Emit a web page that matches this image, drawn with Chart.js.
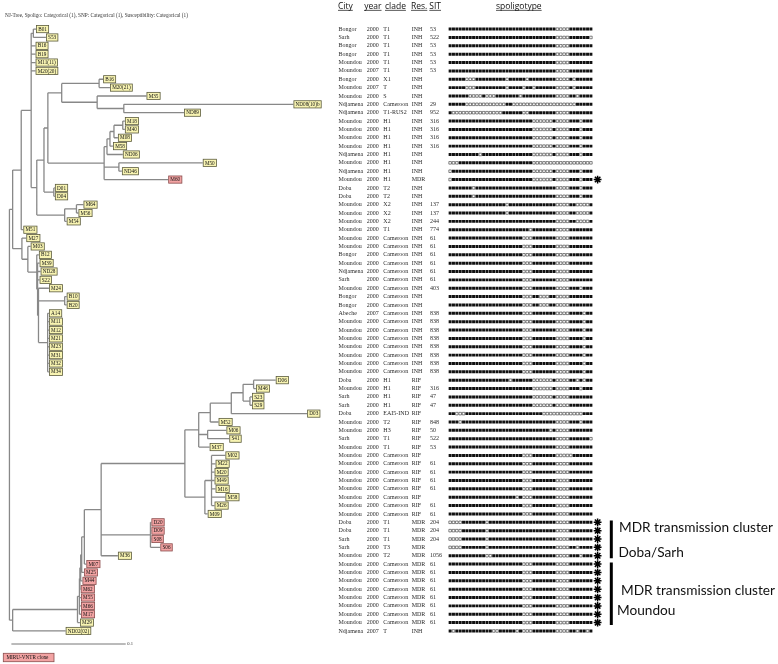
<!DOCTYPE html>
<html><head><meta charset="utf-8">
<script src="https://cdn.jsdelivr.net/npm/chart.js@4/dist/chart.umd.min.js"></script>
<style>html,body{margin:0;padding:0;background:#fff}#wrap{width:778px;height:664px;position:relative}</style>
</head><body><div id="wrap"><canvas id="c" width="778" height="664"></canvas></div>
<script>
const title = "NJ-Tree, Spoligo: Categorical (1), SNP: Categorical (1), Susceptibility: Categorical (1)";
const headers = ["City","year","clade","Res.","SIT","spoligotype"];

const city = [
 "Bongor","Sarh","Bongor","Bongor","Moundou","Moundou","Bongor","Moundou","Moundou","Ndjamena",
 "Ndjamena","Moundou","Moundou","Moundou","Moundou","Ndjamena","Moundou","Ndjamena","Moundou","Doba",
 "Doba","Moundou","Moundou","Moundou","Moundou","Moundou","Moundou","Bongor","Moundou","Ndjamena",
 "Sarh","Moundou","Bongor","Bongor","Abeche","Moundou","Moundou","Moundou","Moundou","Moundou",
 "Moundou","Moundou","Doba","Moundou","Sarh","Sarh","Doba","Moundou","Moundou","Sarh",
 "Moundou","Moundou","Moundou","Moundou","Moundou","Moundou","Moundou","Moundou","Moundou","Doba",
 "Doba","Sarh","Sarh","Moundou","Moundou","Moundou","Moundou","Moundou","Moundou","Moundou",
 "Moundou","Moundou","Ndjamena"];
const year = [
 "2000","2000","2000","2000","2000","2007","2000","2007","2000","2000",
 "2000","2000","2000","2000","2000","2000","2000","2000","2000","2000",
 "2000","2000","2000","2000","2000","2000","2000","2000","2000","2000",
 "2000","2000","2000","2000","2007","2000","2000","2000","2000","2000",
 "2000","2000","2000","2000","2000","2000","2000","2000","2000","2000",
 "2000","2000","2000","2000","2000","2000","2000","2000","2000","2000",
 "2000","2000","2000","2000","2000","2000","2000","2000","2000","2000",
 "2000","2000","2007"];
const clade = [
 "T1","T1","T1","T1","T1","T1","X1","T","S","Cameroon",
 "T1-RUS2","H1","H1","H1","H1","H1","H1","H1","H1","T2",
 "T2","X2","X2","X2","T1","Cameroon","Cameroon","Cameroon","Cameroon","Cameroon",
 "Cameroon","Cameroon","Cameroon","Cameroon","Cameroon","Cameroon","Cameroon","Cameroon","Cameroon","Cameroon",
 "Cameroon","Cameroon","H1","H1","H1","H1","EAI5-IND","T2","H3","T1",
 "T1","Cameroon","Cameroon","Cameroon","Cameroon","Cameroon","Cameroon","Cameroon","Cameroon","T1",
 "T1","T1","T3","T2","Cameroon","Cameroon","Cameroon","Cameroon","Cameroon","Cameroon",
 "Cameroon","Cameroon","T"];
const resistance = [
 "INH","INH","INH","INH","INH","INH","INH","INH","INH","INH",
 "INH","INH","INH","INH","INH","INH","INH","INH","MDR","INH",
 "INH","INH","INH","INH","INH","INH","INH","INH","INH","INH",
 "INH","INH","INH","INH","INH","INH","INH","INH","INH","INH",
 "INH","INH","RIF","RIF","RIF","RIF","RIF","RIF","RIF","RIF",
 "RIF","RIF","RIF","RIF","RIF","RIF","RIF","RIF","RIF","MDR",
 "MDR","MDR","MDR","MDR","MDR","MDR","MDR","MDR","MDR","MDR",
 "MDR","MDR","INH"];
const sit = [
 "53","522","53","53","53","53","","","","29",
 "952","316","316","316","316","","","","","",
 "","137","137","244","774","61","61","61","61","61",
 "61","403","","","838","838","838","838","838","838",
 "838","838","","316","47","47","","848","50","522",
 "53","","61","61","61","61","","61","61","204",
 "204","204","","1056","61","61","61","61","61","61",
 "61","61",""];
// 43 spacers, 1 = present (black), 0 = absent (white); spaces only group by ten
const spoligo = [
 "1111111111 1111111111 1111111111 1100001111 111",
 "1111111111 1111111111 1111111111 1100001111 110",
 "1111111111 1111111111 1111111111 1100001111 111",
 "1111111111 1111111111 1111111111 1100001111 111",
 "1111111111 1111111111 1111111111 1100001111 111",
 "1111111111 1111111111 1111111111 1100001111 111",
 "1111100011 1111111011 1110111111 1100001011 111",
 "1111100011 1111111011 1101101111 1100001011 111",
 "1111110000 1000111111 1011111111 1100001101 111",
 "1111100000 0000000110 0000000000 0000000011 111",
 "1000000000 0000001111 1100111111 1100001111 111",
 "1111111111 1111111111 1111100000 0100001110 111",
 "1111111111 1111111111 1111100000 0100001110 111",
 "1111111111 1111111111 1111100000 0100001110 111",
 "1111111111 1111111111 1111100000 0100001110 111",
 "1111111110 1111111111 1111100000 0100001110 111",
 "0001111111 1111111111 1111100000 0000000000 000",
 "0111111111 1111111111 1111100000 0100001110 111",
 "0111111111 1111111111 1111100000 0100001110 111",
 "1111111011 1111111111 1111111111 1100001110 111",
 "1111111011 1111111111 1111111111 1100001110 111",
 "1111111111 1111111011 1111111111 1100001100 001",
 "1111111111 1111111011 1111111111 1100001100 001",
 "1111111111 1111111111 1111111111 1100001100 001",
 "1111111111 1111111111 1111011111 1100001111 111",
 "1111111111 1111111111 1100011111 1100001111 111",
 "1111111111 1111111111 1100011111 1100001111 111",
 "1111111111 1111111111 1100011111 1100001111 111",
 "1111111111 1111111111 1100011111 1100001111 111",
 "1111111111 1111111111 1100011111 1100001111 111",
 "1111111111 1111111111 1100011111 1100001111 111",
 "1111111111 1111111111 1100011111 1100001110 111",
 "1111111111 1111111111 1100011000 1100001111 111",
 "1111111111 1111111111 1100011000 1100001111 111",
 "1111111111 1111111111 1100011111 1100001111 011",
 "1111111111 1111111111 1100011111 1100001111 011",
 "1111111111 1111111111 1100011111 1100001111 011",
 "1111111111 1111111111 1100011111 1100001111 011",
 "1111111111 1111111111 1100011111 1100001111 011",
 "1111111111 1111111111 1100011111 1100001111 011",
 "1111111111 1111111111 1100011111 1100001111 011",
 "1111111111 1111111111 1100011111 1100001111 011",
 "1111111111 1111111101 1111100000 0100001101 011",
 "1111111111 1111111111 1111100000 0100001110 111",
 "1111111111 1111111111 1111100000 0100001111 111",
 "1111111111 1111111111 1111100000 0100001111 111",
 "1100011111 1111111111 1111111100 0000000000 111",
 "1110111111 1111111111 1111111111 1100001110 111",
 "1111111111 1111111111 1111111111 0100001111 111",
 "1111111111 1111111111 1111111111 1100001111 110",
 "1111111111 1111111111 1111111111 1100001111 111",
 "1111111111 1111111111 1100011111 1100000111 111",
 "1111111111 1111111111 1100011111 1100001111 111",
 "1111111111 1111111111 1100011111 1100001111 111",
 "1111111111 1111111111 1100011111 1100001111 111",
 "1111111111 1111111111 1100011111 1100001111 111",
 "1111111111 1111111111 0100011111 1100001111 111",
 "1111111111 1111111111 1100011111 1100001111 111",
 "1111111111 1111111111 1100011111 1100001111 111",
 "0000111111 1011111111 1111111111 1100001111 111",
 "0000111111 1011111111 1111111111 1100001111 111",
 "0000111111 1011111111 1111111111 1100001111 111",
 "0000111111 1011111111 1111111111 1100001101 111",
 "1111111111 1001111111 1111111111 1100001110 111",
 "1111111111 1111111111 1100011111 1100001111 111",
 "1111111111 1111111111 1100011111 1100001111 111",
 "1111111111 1111111111 1100011111 1100001111 111",
 "1111111111 1111111111 1100011111 1100001111 111",
 "1111111111 1111111111 1100011111 1100001111 111",
 "1111111111 1111111111 1100011111 1100001111 111",
 "1111111111 1111111111 1100011111 1100001111 111",
 "1111111111 1111111111 1100011111 1100001111 111",
 "1011111111 1110011111 0100011111 1100001101 101"];

// tree leaves (one per table row), depth from root in units of 0.001
const leafLabel = ["B01","S53","B16","B19","M11(11)","M20(20)","B16","M20(21)","M35","ND08(10)b",
 "ND89","M18","M40","M08","M58","ND06","M50","ND46","M60","D01",
 "D04","M64","M56","M54","M51","M27","M03","B12","M39","ND28",
 "S22","M24","B10","B20","A14","M11","M12","M21","M23","M31",
 "M32","M34","D06","M46","S23","S29","D03","M52","M06","S41",
 "M37","M02","M22","M20","M49","M16","M58","M26","M09","D20",
 "D09","S08","S06","M36","M07","M25","M44","M62","M55","M66",
 "M17","M29","ND02(02)"];
const leafDepth = [23.3,31.9,22.8,22.8,22.8,22.8,81.9,87.9,119.8,248.3,
 152.6,100.9,100.9,94.8,90.5,99.1,169.0,98.3,138.8,39.7,
 39.7,64.7,60.3,50.0,12.1,14.7,18.5,25.7,26.3,27.2,
 26.3,34.5,50.0,50.0,34.5,34.5,34.5,34.5,34.5,34.5,
 34.5,34.5,232.8,215.5,212.1,212.1,260.3,182.8,189.7,192.2,
 175.0,188.8,180.2,179.3,179.3,180.2,188.8,179.3,173.3,124.1,
 124.1,124.1,131.9,94.8,67.2,65.1,63.8,62.3,62.5,62.5,
 62.5,61.6,49.1];
const cloneRows = [18,59,60,61,62,64,65,66,67,68,69,70];
// internal nodes: [name, depth, children (row index = leaf, string = node)]
const treeNodes = [
 ["R",0,["T","Bn"]],
 ["T",2.8,["U","V"]],
 ["U",10.3,["W",24]],
 ["W",19.0,["P",2,3,4,5,"X"]],
 ["P",20.9,[0,1]],
 ["X",23.9,["Y","Mc"]],
 ["Y",30.2,["Z","Dp"]],
 ["Z",33.6,["Q","H"]],
 ["Q",45.7,["Q1","Q2"]],
 ["Q1",78.4,[6,7]],
 ["Q2",76.7,[8,"Q3"]],
 ["Q3",100.0,[9,10]],
 ["H",82.8,["H1a","H2",18]],
 ["H1a",85.3,["H1b",15]],
 ["H1b",87.9,["H1c",14]],
 ["H1c",91.4,["Hp",13]],
 ["Hp",99.1,[11,12]],
 ["H2",95.7,[16,17]],
 ["Dp",38.8,[19,20]],
 ["Mc",48.3,["Mc2",23]],
 ["Mc2",58.6,[21,22]],
 ["V",10.9,[25,"S1"]],
 ["S1",16.1,[26,"S2"]],
 ["S2",23.9,[27,"S3"]],
 ["S3",24.6,[28,29,30,"S4"]],
 ["S4",25.4,[31,"Bp","A"]],
 ["Bp",48.3,[32,33]],
 ["A",33.4,[34,35,36,37,38,39,40,41]],
 ["Bn",2.8,["LC",72]],
 ["LC",59.5,["I4",71]],
 ["I4",61.2,["I3",68,69,70]],
 ["I3",61.6,["I2",67]],
 ["I2",62.3,["I1",66]],
 ["I1",63.2,["I",65]],
 ["I",65.5,["J",64]],
 ["J",80.2,["K","DS",63]],
 ["K",153.4,["Up","Lo"]],
 ["Up",165.5,["E1","E6",50]],
 ["E1",175.6,["E2",47]],
 ["E2",194.0,["E3",46]],
 ["E3",204.3,["E4","E5"]],
 ["E4",213.5,[42,43]],
 ["E5",210.3,[44,45]],
 ["E6",173.3,[48,49]],
 ["Lo",170.9,["L1",58]],
 ["L1",176.7,[51,52,53,54,55,56,57]],
 ["DS",123.3,[59,60,61,62]]];
const scaleBarLength = 100; // 0.1
const scaleBarLabel = "0.1";
const mdrStarRows = [18,59,60,61,62,63,64,65,66,67,68,69,70,71];
const clusterNames = [["MDR transmission cluster","Doba/Sarh"],["MDR transmission cluster","Moundou"]];
const clusterFirst = [59,64];
const clusterLast = [63,71];
const legendText = "MIRU-VNTR clone";

// ---------- layout ----------
const W = 778, H = 664;
const TREE_X0 = 4, PX_PER_UNIT = 1.16;
const ROW_Y0 = 24, ROW_H = 8.5;
const SP_X0 = 447.6, SP_W = 3.4;
const headerX = [338, 364.3, 385, 411, 429.3, 496];
const colX = [338.5, 366.7, 383.3, 411.7, 430];

const nodeMap = {};
treeNodes.forEach(n => nodeMap[n[0]] = {d: n[1], ch: n[2]});
const depthOf = c => typeof c === 'number' ? leafDepth[c] : nodeMap[c].d;
const yMemo = {};
function yOf(c){
  if (typeof c === 'number') return c;
  if (yMemo[c] !== undefined) return yMemo[c];
  const ch = nodeMap[c].ch;
  return yMemo[c] = (yOf(ch[0]) + yOf(ch[ch.length-1])) / 2;
}
const treeData = [];
treeNodes.forEach(([name, d, ch]) => {
  treeData.push({x:d, y:yOf(ch[0])}, {x:d, y:yOf(ch[ch.length-1])}, {x:d, y:null});
  ch.forEach(c => { const yc = yOf(c); treeData.push({x:d, y:yc}, {x:depthOf(c), y:yc}, {x:d, y:null}); });
});
const filled = [], empty = [];
spoligo.forEach((s, r) => {
  s.replace(/ /g,'').split('').forEach((ch, k) => {
    (ch === '1' ? filled : empty).push({x:k+1, y:r});
  });
});
const stars = mdrStarRows.map(r => ({x:45, y:r}));
const bars = [];
clusterFirst.forEach((f,i) => { bars.push({x:614.5, y:f-0.2}, {x:614.5, y:clusterLast[i]+0.3}, {x:614.5, y:null}); });
const scaleBar = [{x:1.7, y:73.56}, {x:1.7+scaleBarLength, y:73.56}];

function fitFont(c, text, family, target){
  c.font = '10px ' + family;
  const w = c.measureText(text).width;
  c.font = (10*target/w).toFixed(2) + 'px ' + family;
}

const textPlugin = {
  id: 'texts',
  afterDatasetsDraw(chart){
    const c = chart.ctx, sx = chart.scales.x, sy = chart.scales.y;
    c.save();
    c.textBaseline = 'alphabetic';
    c.fillStyle = '#333';
    fitFont(c, title, '"Liberation Serif"', 183);
    c.fillText(title, 5, 16.5);
    c.font = '8.5px "Open Sans"';
    c.fillStyle = '#111';
    headers.forEach((h,i) => {
      c.fillText(h, headerX[i], 8.5);
      c.fillRect(headerX[i], 9.9, c.measureText(h).width, 0.7);
    });
    c.font = '6px "Liberation Serif"';
    c.textBaseline = 'middle';
    c.fillStyle = '#2a2a2a';
    for (let i = 0; i < city.length; i++){
      const y = sy.getPixelForValue(i);
      [city[i], year[i], clade[i], resistance[i], sit[i]].forEach((t,j) => c.fillText(t, colX[j], y));
    }
    c.font = '5.2px "Liberation Serif"';
    leafLabel.forEach((lab,i) => {
      const x = sx.getPixelForValue(leafDepth[i]) + 0.5, y = sy.getPixelForValue(i);
      const w = c.measureText(lab).width + 3.4;
      const pink = cloneRows.includes(i);
      c.fillStyle = pink ? '#f2a3a3' : '#f8f4b2';
      c.fillRect(x, y-3.6, w, 7.2);
      c.strokeStyle = pink ? '#8a4c4c' : '#5c5c3e';
      c.lineWidth = 0.8;
      c.strokeRect(x, y-3.6, w, 7.2);
      c.fillStyle = '#111';
      c.fillText(lab, x+1.7, y+0.3);
    });
    c.font = '4.6px "Liberation Serif"';
    c.fillStyle = '#333';
    c.fillText(scaleBarLabel, sx.getPixelForValue(1.7+scaleBarLength)+1.5, sy.getPixelForValue(73.56));
    c.fillStyle = '#f2a3a3';
    c.fillRect(3.3, 653.3, 50.7, 8.4);
    c.strokeStyle = '#8a4c4c'; c.lineWidth = 0.8;
    c.strokeRect(3.3, 653.3, 50.7, 8.4);
    c.fillStyle = '#111';
    c.font = '5.2px "Liberation Serif"';
    c.fillText(legendText, 6.5, 657.7);
    c.textBaseline = 'alphabetic';
    c.fillStyle = '#111';
    fitFont(c, clusterNames[0][0], 'Lato', 154);
    c.fillText(clusterNames[0][0], 619, 531.5);
    c.fillText(clusterNames[0][1], 618.5, 557);
    c.fillText(clusterNames[1][0], 621, 595);
    c.fillText(clusterNames[1][1], 617, 615);
    c.restore();
  }
};

function make(){
  new Chart(document.getElementById('c'), {
    type: 'scatter',
    data: { datasets: [
      {label:'tree', data:treeData, xAxisID:'x', yAxisID:'y', showLine:true, spanGaps:false,
       borderColor:'#888', borderWidth:1.3, pointRadius:0},
      {label:'scale', data:scaleBar, xAxisID:'x', yAxisID:'y', showLine:true,
       borderColor:'#777', borderWidth:1, pointRadius:0},
      {label:'present', data:filled, xAxisID:'xs', yAxisID:'y', pointStyle:'rect', pointRadius:2.1,
       backgroundColor:'#111', borderColor:'#111', borderWidth:0},
      {label:'absent', data:empty, xAxisID:'xs', yAxisID:'y', pointStyle:'rect', pointRadius:1.8,
       backgroundColor:'#fff', borderColor:'#333', borderWidth:0.6},
      {label:'MDR', data:stars, xAxisID:'xs', yAxisID:'y', pointStyle:'star', pointRadius:3.9,
       borderColor:'#000', backgroundColor:'#000', borderWidth:1.5},
      {label:'clusters', data:bars, xAxisID:'xp', yAxisID:'y', showLine:true, spanGaps:false,
       borderColor:'#000', borderWidth:3, pointRadius:0, borderCapStyle:'butt'}
    ]},
    options: {
      responsive:false, animation:false, devicePixelRatio:1, events:[],
      layout:{padding:0},
      plugins:{legend:{display:false}, tooltip:{enabled:false}},
      scales:{
        x:{type:'linear', display:false, min:-TREE_X0/PX_PER_UNIT, max:(W-TREE_X0)/PX_PER_UNIT},
        y:{type:'linear', display:false, min:-ROW_Y0/ROW_H, max:(H-ROW_Y0)/ROW_H, reverse:true},
        xs:{type:'linear', axis:'x', display:false, min:-SP_X0/SP_W, max:(W-SP_X0)/SP_W},
        xp:{type:'linear', axis:'x', display:false, min:0, max:W}
      }
    },
    plugins:[textPlugin]
  });
}
const fontLoads = ['10px "Liberation Serif"','10px "Open Sans"','10px Lato'].map(f => document.fonts.load(f));
Promise.all(fontLoads).then(make, make);
</script>
</body></html>
